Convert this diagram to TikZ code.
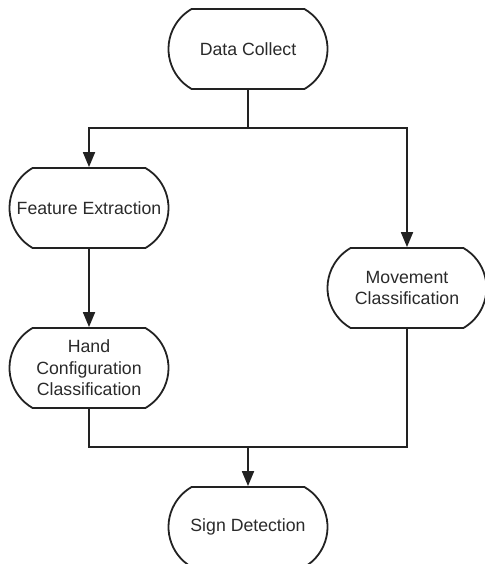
\documentclass[tikz,border=0pt]{standalone}
\usepackage{fontspec}
\setmainfont{Liberation Sans}
\usetikzlibrary{arrows.meta,shapes.misc}
\definecolor{inkline}{HTML}{222222}
\definecolor{inktext}{HTML}{2A2A2A}

\begin{document}
\begin{tikzpicture}[x=1pt, y=-1pt, line width=1.8pt,
    stepbox/.style={draw=inkline, rounded rectangle, rounded rectangle arc length=120,
        minimum width=159pt, minimum height=80pt, inner sep=0pt, align=center,
        text=inktext, font=\fontsize{17.7}{21.5}\selectfont},
    flow/.style={draw=inkline, -{Triangle[length=15pt,width=12pt]}}]
    \useasboundingbox (0, 0) rectangle (484, 564);

    \node (collect) [stepbox] at (248, 49) {Data Collect};
    \node (feature) [stepbox] at (89, 208) {Feature Extraction};
    \node (hand) [stepbox] at (89, 368) {Hand\\Configuration\\Classification};
    \node (movement) [stepbox] at (407, 288) {Movement\\Classification};
    \node (sign) [stepbox] at (248, 527) {Sign Detection};

    \coordinate (split) at (248, 128);
    \coordinate (merge) at (248, 447);

    \draw[inkline] (collect) -- (split);
    \draw[flow] (split) -| (feature);
    \draw[flow] (split) -| (movement);
    \draw[flow] (feature) -- (hand);
    \draw[inkline] (hand) |- (merge) -| (movement);
    \draw[flow] (merge) -- (sign);
\end{tikzpicture}
\end{document}
